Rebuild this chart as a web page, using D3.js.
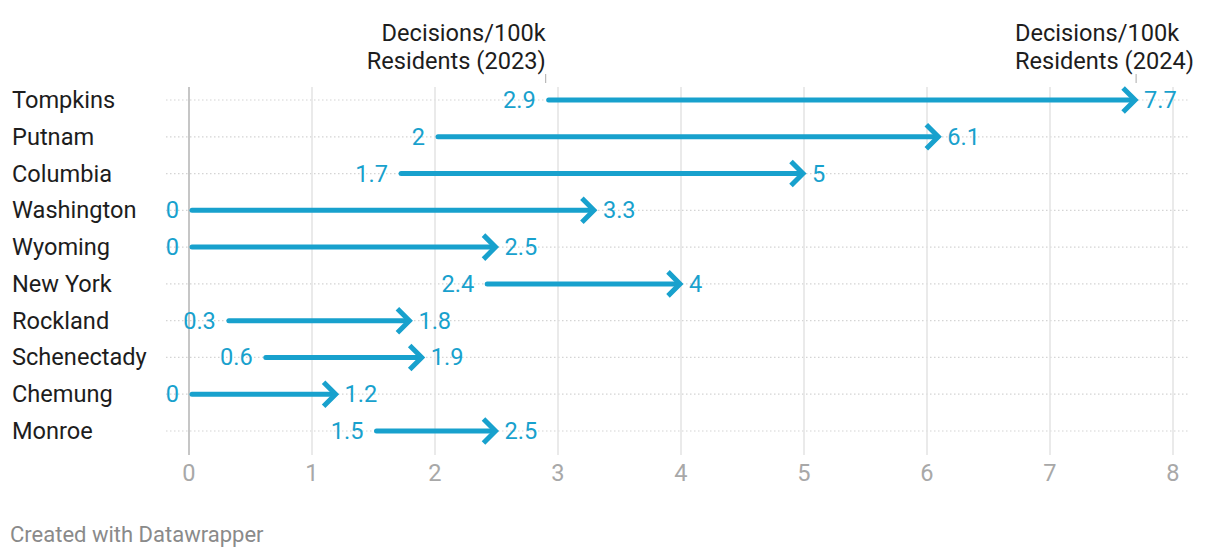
<!DOCTYPE html>
<html><head><meta charset="utf-8">
<script src="https://cdn.jsdelivr.net/npm/d3@7"></script>
<style>
body{margin:0;background:#fff;font-family:Roboto,sans-serif;}
</style></head><body>
<svg id="c" width="1220" height="558"></svg>
<script>
const counties = ["Tompkins","Putnam","Columbia","Washington","Wyoming","New York","Rockland","Schenectady","Chemung","Monroe"];
const values2023 = [2.9,2,1.7,0,0,2.4,0.3,0.6,0,1.5];
const values2024 = [7.7,6.1,5,3.3,2.5,4,1.8,1.9,1.2,2.5];
const xTicks = [0,1,2,3,4,5,6,7,8];
const header2023 = ["Decisions/100k","Residents (2023)"];
const header2024 = ["Decisions/100k","Residents (2024)"];

const color = "#18a1cd";
const FS = 23.6;
const svg = d3.select("#c");
const x = d3.scaleLinear().domain([0,8]).range([189,1173]);
const y = d3.scalePoint().domain(counties).range([100,431]);

// horizontal dotted gridlines
svg.append("g").selectAll("line").data(counties).join("line")
  .attr("x1",166).attr("x2",1190).attr("y1",d=>y(d)).attr("y2",d=>y(d))
  .attr("stroke","#d4d4d4").attr("stroke-width",1.2).attr("stroke-dasharray","1.5,2.5");

// vertical gridlines
svg.append("g").selectAll("line").data(xTicks).join("line")
  .attr("x1",d=>x(d)).attr("x2",d=>x(d)).attr("y1",87).attr("y2",455)
  .attr("stroke",d=>d===0?"#c6c6c6":"#e3e3e3").attr("stroke-width",d=>d===0?2:1.5);

// axis labels
svg.append("g").selectAll("text").data(xTicks).join("text")
  .attr("x",d=>x(d)).attr("y",481).attr("text-anchor","middle")
  .attr("font-size",FS).attr("fill","#a8a8a8").text(d=>d);

// county labels
svg.append("g").selectAll("text").data(counties).join("text")
  .attr("x",12).attr("y",d=>y(d)+8).attr("font-size",FS).attr("fill","#1d1d1d").text(d=>d);

const rows = counties.map((c,i)=>({c,a:values2023[i],b:values2024[i]}));
const g = svg.append("g");
// arrows
g.selectAll("line.shaft").data(rows).join("line").attr("class","shaft")
  .attr("x1",d=>x(d.a)+3).attr("x2",d=>x(d.b)-3).attr("y1",d=>y(d.c)).attr("y2",d=>y(d.c))
  .attr("stroke",color).attr("stroke-width",5).attr("stroke-linecap","round");
g.selectAll("path.head").data(rows).join("path").attr("class","head")
  .attr("d",d=>{const tx=x(d.b)-1, ty=y(d.c); return `M${tx-12},${ty-12}L${tx},${ty}L${tx-12},${ty+12}`;})
  .attr("fill","none").attr("stroke",color).attr("stroke-width",5).attr("stroke-linecap","butt").attr("stroke-linejoin","miter");

// value labels
g.selectAll("text.a").data(rows).join("text").attr("class","a")
  .attr("x",d=>x(d.a)-10).attr("y",d=>y(d.c)+8).attr("text-anchor","end")
  .attr("font-size",FS).attr("fill",color).text(d=>d.a);
g.selectAll("text.b").data(rows).join("text").attr("class","b")
  .attr("x",d=>x(d.b)+8).attr("y",d=>y(d.c)+8).attr("text-anchor","start")
  .attr("font-size",FS).attr("fill",color).text(d=>d.b);

// headers
const hx1 = x(values2023[0]), hx2 = x(values2024[0]);
svg.append("line").attr("x1",hx1).attr("x2",hx1).attr("y1",74).attr("y2",83).attr("stroke","#aaa").attr("stroke-width",1);
svg.append("line").attr("x1",hx2).attr("x2",hx2).attr("y1",74).attr("y2",83).attr("stroke","#aaa").attr("stroke-width",1);
const h1 = svg.append("text").attr("font-size",FS).attr("fill","#1d1d1d").attr("text-anchor","end");
header2023.forEach((t,i)=>h1.append("tspan").attr("x",hx1).attr("y",41+i*28).text(t));
const h2 = svg.append("text").attr("font-size",FS).attr("fill","#1d1d1d").attr("text-anchor","start");
header2024.forEach((t,i)=>h2.append("tspan").attr("x",1015).attr("y",41+i*28).text(t));

svg.append("text").attr("x",10).attr("y",542).attr("font-size",22).attr("fill","#8a8a8a").text("Created with Datawrapper");
</script>
</body></html>
